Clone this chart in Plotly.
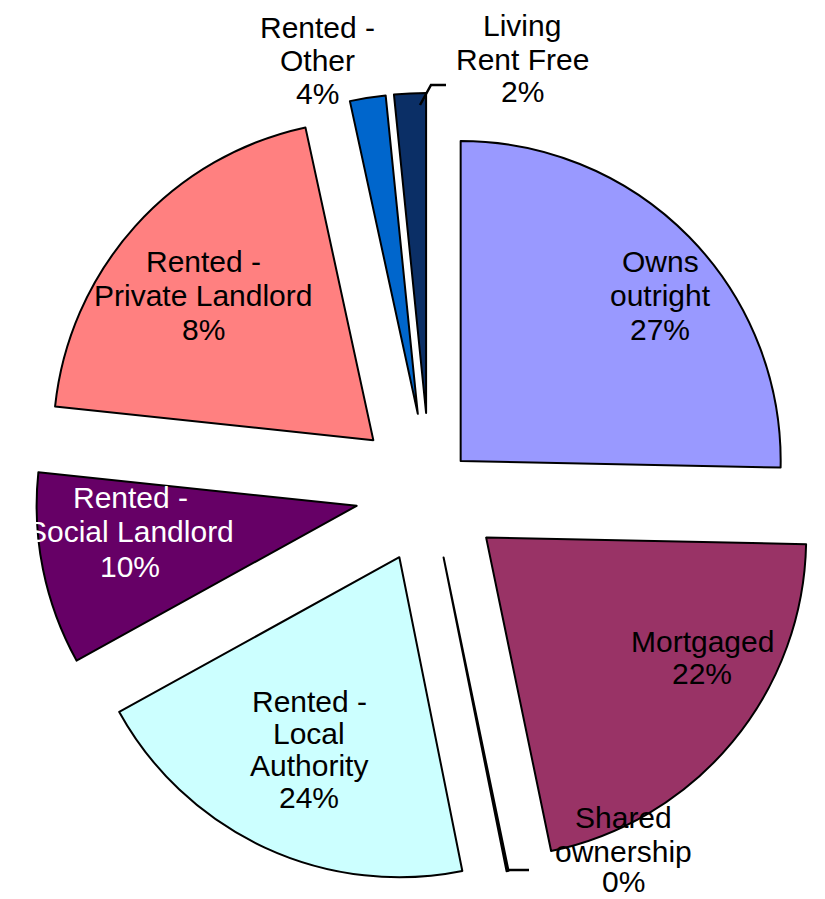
import plotly.graph_objects as go

# ---- data ----
categories = ["Owns outright", "Mortgaged", "Shared ownership",
              "Rented - Local Authority", "Rented - Social Landlord",
              "Rented - Private Landlord", "Rented - Other", "Living Rent Free"]
# slice sizes as drawn (share of the circle, %)
slice_shares = [25.3, 21.4, 0.1, 20.1, 9.7, 19.9, 1.8, 1.6]
# percentages printed on the labels
pct_labels = ["27%", "22%", "0%", "24%", "10%", "8%", "4%", "2%"]
# label text, line by line
label_lines = [["Owns", "outright"], ["Mortgaged"], ["Shared", "ownership"],
               ["Rented -", "Local", "Authority"], ["Rented -", "Social Landlord"],
               ["Rented -", "Private Landlord"], ["Rented -", "Other"], ["Living", "Rent Free"]]

# ---- styles / layout ----
colors = ["#9999FF", "#993366", "#FFFFCC", "#CCFFFF",
          "#660066", "#FF8080", "#0066CC", "#0B2F66"]
pulls = [0.134, 0.228, 0.212, 0.228, 0.234, 0.238, 0.244, 0.244]
text_colors = ["black", "black", "black", "black", "white", "black", "black", "black"]
# label x centre and y of the first line's glyph centre (pixels from top-left), line step
label_anchor_px = [(652, 262), (694, 642), (615, 818), (301, 702),
                   (122, 498), (195, 263), (309, 28), (514, 27)]
line_steps_px = [34, 32, 34, 32, 34.5, 33.5, 33.5, 33]
BOX_OFFSET = -9  # annotation box middle vs. visible glyph centre

W, H = 825, 899
FONT = "Liberation Sans, Arial, sans-serif"

fig = go.Figure(go.Pie(
    labels=categories,
    values=slice_shares,
    sort=False,
    direction="clockwise",
    rotation=0,
    pull=pulls,
    textinfo="none",
    hoverinfo="label+value",
    marker=dict(colors=colors, line=dict(color="black", width=2)),
    domain=dict(x=[0.0290, 0.9941], y=[0.0199, 0.9056]),
    showlegend=False,
))

annotations = []
for lines, pct, (px, py), step, tc in zip(label_lines, pct_labels, label_anchor_px,
                                          line_steps_px, text_colors):
    for i, ln in enumerate(lines + [pct]):
        yy = py + i * step + BOX_OFFSET
        if pct == "0%" and ln == pct:
            yy -= 4
        annotations.append(dict(
            text=ln, x=px / W, y=1 - yy / H, xref="paper", yref="paper",
            xanchor="center", yanchor="middle", showarrow=False,
            font=dict(family=FONT, size=30, color=tc),
        ))

shapes = [
    # leader line for Living Rent Free
    dict(type="path", xref="paper", yref="paper",
         path=f"M {412/W} {1-97/H} L {423/W} {1-77/H} L {438/W} {1-77/H}",
         line=dict(color="black", width=2.5)),
    # leader line for Shared ownership
    dict(type="path", xref="paper", yref="paper",
         path=f"M {499/W} {1-862/H} L {521/W} {1-862/H}",
         line=dict(color="black", width=2.5)),
]

fig.update_layout(
    width=W, height=H,
    margin=dict(l=0, r=0, t=0, b=0),
    paper_bgcolor="white", plot_bgcolor="white",
    annotations=annotations,
    shapes=shapes,
)

fig.write_html("out.html")
